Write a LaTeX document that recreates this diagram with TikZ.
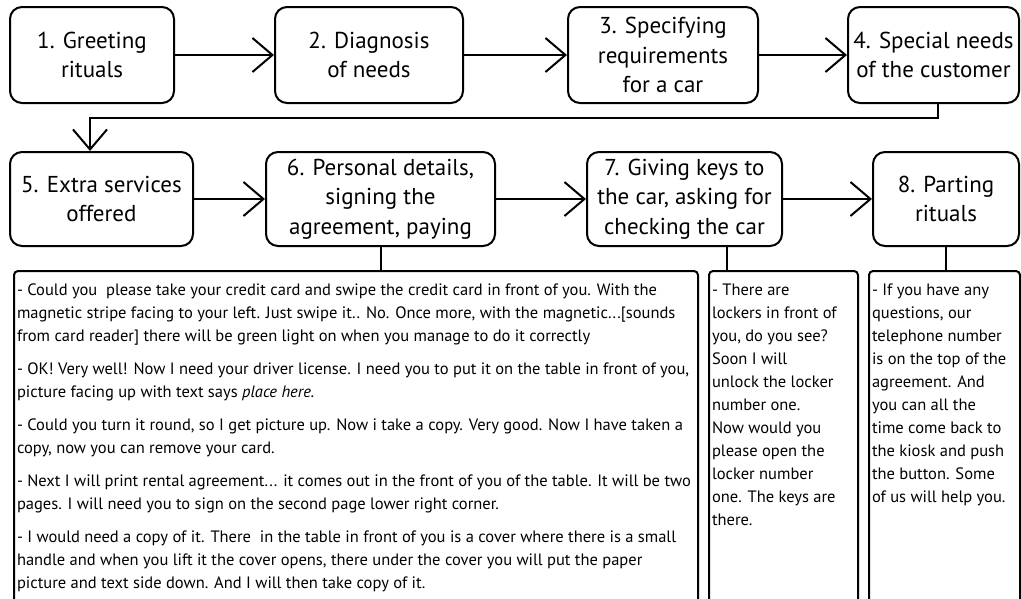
\documentclass[tikz,border=0pt]{standalone}
\usepackage{fontspec}
\setmainfont{PT Sans}
\usetikzlibrary{arrows.meta}
\begin{document}
\begin{tikzpicture}[x=1pt,y=-1pt,
  stepbox/.style={draw, line width=2pt, rounded corners=12pt, align=center, inner sep=0pt, font=\fontsize{23}{29.5}\selectfont},
  textbox/.style={draw, line width=2pt, rounded corners=4pt, inner xsep=3pt, inner ysep=13pt, anchor=north west, font=\fontsize{16.5}{23}\selectfont},
  conn/.style={line width=2pt},
  arr/.style={line width=2pt, -{Straight Barb[length=20pt,width=34pt]}},
]
\useasboundingbox (0,0) rectangle (1021,598);
\clip (0,0) rectangle (1021,598);
% top row
\node[stepbox, minimum width=164pt, minimum height=96pt] (b1) at (92,55) {1. Greeting\\rituals};
\node[stepbox, minimum width=188pt, minimum height=96pt] (b2) at (369,55) {2. Diagnosis\\of needs};
\node[stepbox, minimum width=190pt, minimum height=96pt] (b3) at (663,55) {3. Specifying\\requirements\\for a car};
\node[stepbox, minimum width=171pt, minimum height=96pt] (b4) at (933.5,55) {4. Special needs\\of the customer};
% second row
\node[stepbox, minimum width=183pt, minimum height=94pt] (b5) at (101.5,199) {5. Extra services\\offered};
\node[stepbox, minimum width=229pt, minimum height=94pt] (b6) at (380.5,199) {6. Personal details,\\signing the\\agreement, paying};
\node[stepbox, minimum width=195pt, minimum height=94pt] (b7) at (684.5,199) {7. Giving keys to\\the car, asking for\\checking the car};
\node[stepbox, minimum width=146pt, minimum height=94pt] (b8) at (946,199) {8. Parting\\rituals};
% text boxes
\node[textbox] (t6) at (13,270) {\begin{minipage}[t][340pt][t]{678pt}\raggedright\setlength{\parskip}{10pt}%
- Could you~ please take your credit card and swipe the credit card in front of you. With the\\
magnetic stripe facing to your left. Just swipe it.. No. Once more, with the magnetic...[sounds\\
from card reader] there will be green light on when you manage to do it correctly\par
- OK! Very well! Now I need your driver license. I need you to put it on the table in front of you,\\
picture facing up with text says \textit{place here.}\par
- Could you turn it round, so I get picture up. Now i take a copy. Very good. Now I have taken a\\
copy, now you can remove your card.\par
- Next I will print rental agreement... it comes out in the front of you of the table. It will be two\\
pages. I will need you to sign on the second page lower right corner.\par
- I would need a copy of it. There~ in the table in front of you is a cover where there is a small\\
handle and when you lift it the cover opens, there under the cover you will put the paper\\
picture and text side down. And I will then take copy of it.
\end{minipage}};
\node[textbox] (t7) at (708,270) {\begin{minipage}[t][340pt][t]{143pt}\raggedright
- There are\\ lockers in front of\\ you, do you see?\\ Soon I will\\ unlock the locker\\ number one.\\ Now would you\\ please open the\\ locker number\\ one. The keys are\\ there.
\end{minipage}};
\node[textbox] (t8) at (868,270) {\begin{minipage}[t][340pt][t]{145pt}\raggedright
- If you have any\\ questions, our\\ telephone number\\ is on the top of the\\ agreement. And\\ you can all the\\ time come back to\\ the kiosk and push\\ the button. Some\\ of us will help you.
\end{minipage}};
% connectors
\draw[arr] (b1) -- (b2);
\draw[arr] (b2) -- (b3);
\draw[arr] (b3) -- (b4);
\draw[arr] (b5) -- (b6);
\draw[arr] (b6) -- (b7);
\draw[arr] (b7) -- (b8);
\coordinate (k1) at (938,118);
\coordinate (k2) at (90,118);
\draw[arr] (b4.south -| k1) -- (k1) -- (k2) -- (k2 |- b5.north);
\draw[conn] (b6.south) -- (b6.south |- t6.north);
\coordinate (k3) at (727,0);
\draw[conn] (b7.south -| k3) -- (k3 |- t7.north);
\draw[conn] (b8.south) -- (b8.south |- t8.north);
\end{tikzpicture}
\end{document}
